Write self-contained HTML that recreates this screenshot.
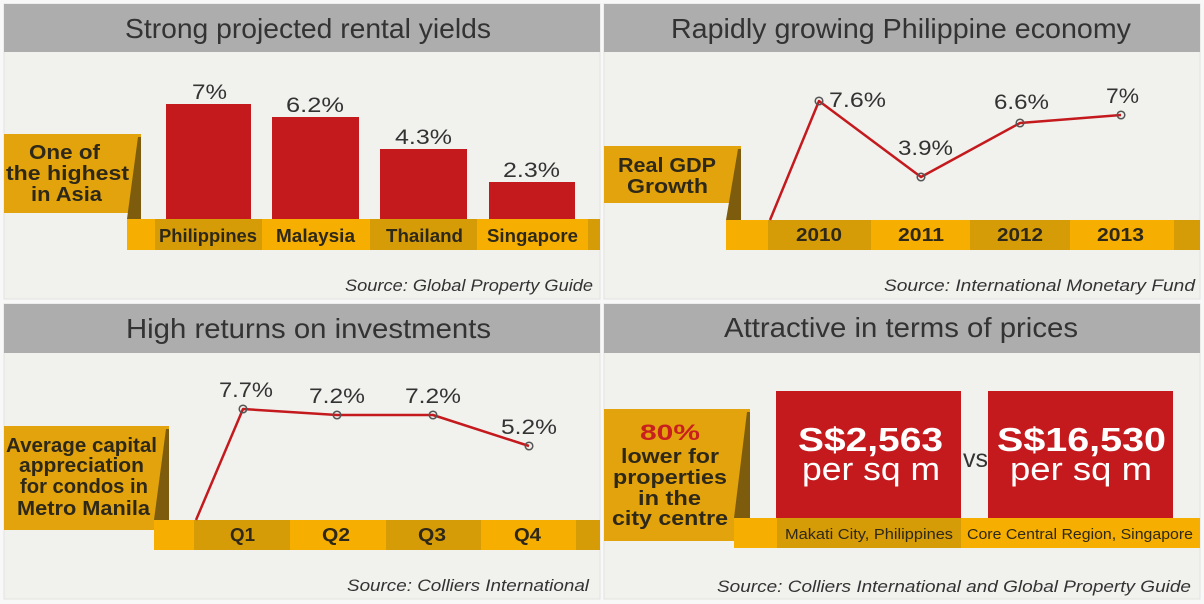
<!DOCTYPE html>
<html><head><meta charset="utf-8"><style>
html,body{margin:0;padding:0;background:#f8f8f8;}
svg{display:block;}
text{font-family:"Liberation Sans",sans-serif;}
.t{font-size:28px;fill:#333;}
.v{font-size:21px;fill:#333;}
.c{font-size:18px;font-weight:bold;fill:#2e2818;}
.l{font-size:20px;font-weight:bold;fill:#2e2818;}
.s{font-size:17px;font-style:italic;fill:#333;}
</style></head><body>
<svg width="1204" height="604" viewBox="0 0 1204 604" xmlns="http://www.w3.org/2000/svg">
<rect x="0" y="0" width="1204" height="604" fill="#f8f8f8"/>
<!-- panel backgrounds -->
<rect x="4" y="4" width="596" height="295" fill="#f1f2ee" stroke="#e2e2e0" stroke-width="1"/>
<rect x="604" y="4" width="596" height="295" fill="#f1f2ee" stroke="#e2e2e0" stroke-width="1"/>
<rect x="4" y="304" width="596" height="295" fill="#f1f2ee" stroke="#e2e2e0" stroke-width="1"/>
<rect x="604" y="304" width="596" height="295" fill="#f1f2ee" stroke="#e2e2e0" stroke-width="1"/>
<!-- title bars -->
<rect x="4" y="4" width="596" height="48" fill="#adadad"/>
<rect x="604" y="4" width="596" height="48" fill="#adadad"/>
<rect x="4" y="304" width="596" height="49" fill="#adadad"/>
<rect x="604" y="304" width="596" height="49" fill="#adadad"/>
<text class="t" x="125" y="38" textLength="366" lengthAdjust="spacingAndGlyphs">Strong projected rental yields</text>
<text class="t" x="671" y="38" textLength="460" lengthAdjust="spacingAndGlyphs">Rapidly growing Philippine economy</text>
<text class="t" x="126" y="338" textLength="365" lengthAdjust="spacingAndGlyphs">High returns on investments</text>
<text class="t" x="724" y="337" textLength="354" lengthAdjust="spacingAndGlyphs">Attractive in terms of prices</text>

<!-- PANEL 1 -->
<rect x="4" y="134" width="137" height="79" fill="#e2a30c"/>
<polygon points="138,137 141,137 141,219 127,219" fill="#7d5c0d"/>
<rect x="127" y="219" width="473" height="31" fill="#f6ae00"/>
<rect x="155" y="219" width="107" height="31" fill="#d69c08"/>
<rect x="370" y="219" width="107" height="31" fill="#d69c08"/>
<rect x="588" y="219" width="12" height="31" fill="#d69c08"/>
<rect x="166" y="104" width="85" height="115" fill="#c41a1e"/>
<rect x="272" y="117" width="87" height="102" fill="#c41a1e"/>
<rect x="380" y="149" width="87" height="70" fill="#c41a1e"/>
<rect x="489" y="182" width="86" height="37" fill="#c41a1e"/>
<text class="v" x="192" y="99" textLength="35" lengthAdjust="spacingAndGlyphs">7%</text>
<text class="v" x="286" y="112" textLength="58" lengthAdjust="spacingAndGlyphs">6.2%</text>
<text class="v" x="395" y="144" textLength="57" lengthAdjust="spacingAndGlyphs">4.3%</text>
<text class="v" x="503" y="177" textLength="57" lengthAdjust="spacingAndGlyphs">2.3%</text>
<text class="c" x="159" y="242" textLength="98" lengthAdjust="spacingAndGlyphs">Philippines</text>
<text class="c" x="276" y="242" textLength="79" lengthAdjust="spacingAndGlyphs">Malaysia</text>
<text class="c" x="386" y="242" textLength="77" lengthAdjust="spacingAndGlyphs">Thailand</text>
<text class="c" x="487" y="242" textLength="91" lengthAdjust="spacingAndGlyphs">Singapore</text>
<text class="l" x="29" y="159" textLength="71" lengthAdjust="spacingAndGlyphs">One of</text>
<text class="l" x="6" y="180" textLength="123" lengthAdjust="spacingAndGlyphs">the highest</text>
<text class="l" x="31" y="201" textLength="71" lengthAdjust="spacingAndGlyphs">in Asia</text>
<text class="s" x="345" y="291" textLength="248" lengthAdjust="spacingAndGlyphs">Source: Global Property Guide</text>

<!-- PANEL 2 -->
<rect x="604" y="146" width="137" height="57" fill="#e2a30c"/>
<polygon points="738,149 741,149 741,220 726,220" fill="#7d5c0d"/>
<rect x="726" y="220" width="474" height="30" fill="#f6ae00"/>
<rect x="768" y="220" width="103" height="30" fill="#d69c08"/>
<rect x="970" y="220" width="100" height="30" fill="#d69c08"/>
<rect x="1174" y="220" width="26" height="30" fill="#d69c08"/>
<polyline points="770,220 819,101 921,177 1020,123 1121,115" fill="none" stroke="#c41a1e" stroke-width="2.5" stroke-linejoin="round"/>
<g fill="none" stroke="#555" stroke-width="1.5">
<circle cx="819" cy="101" r="3.8"/><circle cx="921" cy="177" r="3.8"/><circle cx="1020" cy="123" r="3.8"/><circle cx="1121" cy="115" r="3.8"/>
</g>
<text class="v" x="829" y="107" textLength="57" lengthAdjust="spacingAndGlyphs">7.6%</text>
<text class="v" x="898" y="155" textLength="55" lengthAdjust="spacingAndGlyphs">3.9%</text>
<text class="v" x="994" y="109" textLength="55" lengthAdjust="spacingAndGlyphs">6.6%</text>
<text class="v" x="1106" y="103" textLength="33" lengthAdjust="spacingAndGlyphs">7%</text>
<text class="c" x="796" y="241" textLength="46" lengthAdjust="spacingAndGlyphs">2010</text>
<text class="c" x="898" y="241" textLength="46" lengthAdjust="spacingAndGlyphs">2011</text>
<text class="c" x="997" y="241" textLength="46" lengthAdjust="spacingAndGlyphs">2012</text>
<text class="c" x="1097" y="241" textLength="47" lengthAdjust="spacingAndGlyphs">2013</text>
<text class="l" x="618" y="172" textLength="98" lengthAdjust="spacingAndGlyphs">Real GDP</text>
<text class="l" x="627" y="193" textLength="81" lengthAdjust="spacingAndGlyphs">Growth</text>
<text class="s" x="884" y="291" textLength="311" lengthAdjust="spacingAndGlyphs">Source: International Monetary Fund</text>

<!-- PANEL 3 -->
<rect x="4" y="426" width="165" height="104" fill="#e2a30c"/>
<polygon points="166,429 169,429 169,520 154,520" fill="#7d5c0d"/>
<rect x="154" y="520" width="446" height="30" fill="#f6ae00"/>
<rect x="194" y="520" width="96" height="30" fill="#d69c08"/>
<rect x="386" y="520" width="95" height="30" fill="#d69c08"/>
<rect x="576" y="520" width="24" height="30" fill="#d69c08"/>
<polyline points="196,520 243,409 337,415 433,415 529,446" fill="none" stroke="#c41a1e" stroke-width="2.5" stroke-linejoin="round"/>
<g fill="none" stroke="#555" stroke-width="1.5">
<circle cx="243" cy="409" r="3.8"/><circle cx="337" cy="415" r="3.8"/><circle cx="433" cy="415" r="3.8"/><circle cx="529" cy="446" r="3.8"/>
</g>
<text class="v" x="219" y="397" textLength="54" lengthAdjust="spacingAndGlyphs">7.7%</text>
<text class="v" x="309" y="403" textLength="56" lengthAdjust="spacingAndGlyphs">7.2%</text>
<text class="v" x="405" y="403" textLength="56" lengthAdjust="spacingAndGlyphs">7.2%</text>
<text class="v" x="501" y="434" textLength="56" lengthAdjust="spacingAndGlyphs">5.2%</text>
<text class="c" x="230" y="541" textLength="25" lengthAdjust="spacingAndGlyphs">Q1</text>
<text class="c" x="322" y="541" textLength="28" lengthAdjust="spacingAndGlyphs">Q2</text>
<text class="c" x="418" y="541" textLength="28" lengthAdjust="spacingAndGlyphs">Q3</text>
<text class="c" x="514" y="541" textLength="27" lengthAdjust="spacingAndGlyphs">Q4</text>
<text class="l" x="6" y="452" textLength="151" lengthAdjust="spacingAndGlyphs">Average capital</text>
<text class="l" x="19" y="472" textLength="125" lengthAdjust="spacingAndGlyphs">appreciation</text>
<text class="l" x="20" y="493" textLength="128" lengthAdjust="spacingAndGlyphs">for condos in</text>
<text class="l" x="17" y="515" textLength="133" lengthAdjust="spacingAndGlyphs">Metro Manila</text>
<text class="s" x="347" y="591" textLength="242" lengthAdjust="spacingAndGlyphs">Source: Colliers International</text>

<!-- PANEL 4 -->
<rect x="604" y="409" width="146" height="132" fill="#e2a30c"/>
<polygon points="747,412 750,412 750,518 734,518" fill="#7d5c0d"/>
<rect x="734" y="518" width="466" height="30" fill="#f6ae00"/>
<rect x="777" y="518" width="184" height="30" fill="#d69c08"/>
<rect x="776" y="391" width="185" height="127" fill="#c41a1e"/>
<rect x="988" y="391" width="185" height="127" fill="#c41a1e"/>
<text x="798" y="451" textLength="145" lengthAdjust="spacingAndGlyphs" style="font-size:33px;font-weight:bold;fill:#fff">S$2,563</text>
<text x="802" y="480" textLength="138" lengthAdjust="spacingAndGlyphs" style="font-size:32px;fill:#fff">per sq m</text>
<text x="997" y="451" textLength="169" lengthAdjust="spacingAndGlyphs" style="font-size:33px;font-weight:bold;fill:#fff">S$16,530</text>
<text x="1010" y="480" textLength="142" lengthAdjust="spacingAndGlyphs" style="font-size:32px;fill:#fff">per sq m</text>
<text x="963" y="467" textLength="25" lengthAdjust="spacingAndGlyphs" style="font-size:25px;fill:#333">vs</text>
<text x="785" y="539" textLength="168" lengthAdjust="spacingAndGlyphs" style="font-size:15px;fill:#2e2818">Makati City, Philippines</text>
<text x="967" y="539" textLength="226" lengthAdjust="spacingAndGlyphs" style="font-size:15px;fill:#2e2818">Core Central Region, Singapore</text>
<text x="640" y="440" textLength="60" lengthAdjust="spacingAndGlyphs" style="font-size:22px;font-weight:bold;fill:#c8201e">80%</text>
<text class="l" x="621" y="463" textLength="98" lengthAdjust="spacingAndGlyphs">lower for</text>
<text class="l" x="613" y="484" textLength="114" lengthAdjust="spacingAndGlyphs">properties</text>
<text class="l" x="638" y="505" textLength="63" lengthAdjust="spacingAndGlyphs">in the</text>
<text class="l" x="612" y="525" textLength="116" lengthAdjust="spacingAndGlyphs">city centre</text>
<text class="s" x="717" y="592" textLength="474" lengthAdjust="spacingAndGlyphs">Source: Colliers International and Global Property Guide</text>
</svg>
</body></html>
